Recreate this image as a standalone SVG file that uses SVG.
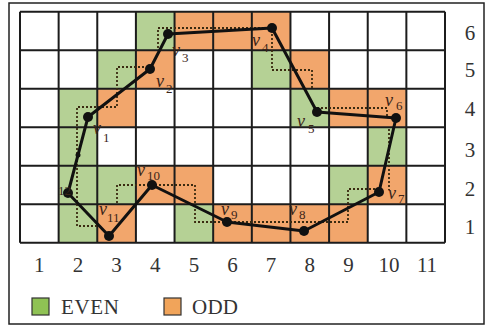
<svg xmlns="http://www.w3.org/2000/svg" width="488" height="327" viewBox="0 0 488 327">
<style>
.g{fill:#b5d195}.o{fill:#f2a66c}
.grid{stroke:#1c1c1c;stroke-width:2;fill:none}
.dot{stroke:#3a2a10;stroke-width:1.8;stroke-dasharray:2 2;fill:none}
.edge{stroke:#111;stroke-width:3;fill:none;stroke-linejoin:round}
.v{fill:#111}
.lab{font-family:"Liberation Serif",serif;font-style:italic;font-size:18px;fill:#3b2418}
.sub{font-family:"Liberation Serif",serif;font-size:13px;fill:#3b2418}
.num{font-family:"Liberation Serif",serif;font-size:21px;fill:#333}
.leg{font-family:"Liberation Serif",serif;font-size:21px;fill:#333}
</style>
<rect x="0" y="0" width="488" height="327" fill="#fff"/>
<rect x="9" y="3" width="475" height="321" fill="none" stroke="#222" stroke-width="1.5"/>
<g id="cells">
<rect class="g" x="135.91" y="11.7" width="38.64" height="38.5"/>
<rect class="o" x="174.55" y="11.7" width="38.64" height="38.5"/>
<rect class="o" x="213.18" y="11.7" width="38.64" height="38.5"/>
<rect class="o" x="251.82" y="11.7" width="38.64" height="38.5"/>
<rect class="g" x="97.27" y="50.2" width="38.64" height="38.5"/>
<rect class="o" x="135.91" y="50.2" width="38.64" height="38.5"/>
<rect class="g" x="251.82" y="50.2" width="38.64" height="38.5"/>
<rect class="o" x="290.45" y="50.2" width="38.64" height="38.5"/>
<rect class="g" x="58.64" y="88.7" width="38.64" height="38.5"/>
<rect class="o" x="97.27" y="88.7" width="38.64" height="38.5"/>
<rect class="g" x="290.45" y="88.7" width="38.64" height="38.5"/>
<rect class="o" x="329.09" y="88.7" width="38.64" height="38.5"/>
<rect class="o" x="367.73" y="88.7" width="38.64" height="38.5"/>
<rect class="g" x="58.64" y="127.2" width="38.64" height="38.5"/>
<rect class="g" x="367.73" y="127.2" width="38.64" height="38.5"/>
<rect class="g" x="58.64" y="165.7" width="38.64" height="38.5"/>
<rect class="g" x="97.27" y="165.7" width="38.64" height="38.5"/>
<rect class="o" x="135.91" y="165.7" width="38.64" height="38.5"/>
<rect class="o" x="174.55" y="165.7" width="38.64" height="38.5"/>
<rect class="g" x="329.09" y="165.7" width="38.64" height="38.5"/>
<rect class="o" x="367.73" y="165.7" width="38.64" height="38.5"/>
<rect class="g" x="58.64" y="204.2" width="38.64" height="38.5"/>
<rect class="o" x="97.27" y="204.2" width="38.64" height="38.5"/>
<rect class="g" x="174.55" y="204.2" width="38.64" height="38.5"/>
<rect class="o" x="213.18" y="204.2" width="38.64" height="38.5"/>
<rect class="o" x="251.82" y="204.2" width="38.64" height="38.5"/>
<rect class="o" x="290.45" y="204.2" width="38.64" height="38.5"/>
<rect class="o" x="329.09" y="204.2" width="38.64" height="38.5"/>
</g>
<g id="grid" class="grid">
<path d="M20 11.7V242.7M58.64 11.7V242.7M97.27 11.7V242.7M135.91 11.7V242.7M174.55 11.7V242.7M213.18 11.7V242.7M251.82 11.7V242.7M290.45 11.7V242.7M329.09 11.7V242.7M367.73 11.7V242.7M406.36 11.7V242.7M445 11.7V242.7"/>
<path d="M20 11.7H445M20 50.2H445M20 88.7H445M20 127.2H445M20 165.7H445M20 204.2H445M20 242.7H445"/>
</g>
<g id="staircase" class="dot">
<path d="M97 226H77V107H117V67H150"/>
<path d="M158 48V28H272V70H312V90"/>
<path d="M317 108H387V117"/>
<path d="M389 129V190"/>
<path d="M379 189H348V222H195V185H117V205"/>
</g>
<g id="connectors" class="edge">
<path d="M88 117L150 69L168 34L272 28L317 112L396 118L379 192L304 231L227 222L152 185L109 236L68 193Z"/>
</g>
<g id="v1"><circle class="v" cx="88" cy="117" r="5"/><text class="lab" x="93" y="134">v</text><text class="sub" x="103" y="142">1</text></g>
<g id="v2"><circle class="v" cx="150" cy="69" r="5"/><text class="lab" x="156" y="87">v</text><text class="sub" x="166" y="93">2</text></g>
<g id="v3"><circle class="v" cx="168" cy="34" r="5"/><text class="lab" x="172" y="56">v</text><text class="sub" x="182" y="62">3</text></g>
<g id="v4"><circle class="v" cx="272" cy="28" r="5"/><text class="lab" x="252" y="46">v</text><text class="sub" x="262" y="52">4</text></g>
<g id="v5"><circle class="v" cx="317" cy="112" r="5"/><text class="lab" x="297" y="127">v</text><text class="sub" x="308" y="133">5</text></g>
<g id="v6"><circle class="v" cx="396" cy="118" r="5"/><text class="lab" x="385" y="106">v</text><text class="sub" x="396" y="110">6</text></g>
<g id="v7"><circle class="v" cx="379" cy="192" r="5"/><text class="lab" x="388" y="199">v</text><text class="sub" x="398" y="203">7</text></g>
<g id="v8"><circle class="v" cx="304" cy="231" r="5"/><text class="lab" x="289" y="215">v</text><text class="sub" x="299" y="219">8</text></g>
<g id="v9"><circle class="v" cx="227" cy="222" r="5"/><text class="lab" x="221" y="215">v</text><text class="sub" x="231" y="219">9</text></g>
<g id="v10"><circle class="v" cx="152" cy="185" r="5"/><text class="lab" x="137" y="176">v</text><text class="sub" x="147" y="180">10</text></g>
<g id="v11"><circle class="v" cx="109" cy="236" r="5"/><text class="lab" x="99" y="215">v</text><text class="sub" x="107" y="222">11</text></g>
<g id="v12"><circle class="v" cx="68" cy="193" r="5"/><text class="sub" x="58" y="195">12</text></g>
<circle class="v" cx="78" cy="155" r="2.5"/>
<g id="ylabels" class="num" text-anchor="middle">
<text x="470" y="40">6</text><text x="470" y="77">5</text><text x="470" y="116">4</text><text x="470" y="157">3</text><text x="470" y="196">2</text><text x="470" y="234">1</text>
</g>
<g id="xlabels" class="num" text-anchor="middle">
<text x="39.3" y="272">1</text><text x="78" y="272">2</text><text x="116.6" y="272">3</text><text x="155.2" y="272">4</text><text x="193.9" y="272">5</text><text x="232.5" y="272">6</text><text x="271.1" y="272">7</text><text x="309.8" y="272">8</text><text x="348.4" y="272">9</text><text x="389" y="272">10</text><text x="427" y="272">11</text>
</g>
<g id="legend">
<rect x="32" y="298" width="17" height="17" fill="#8fc254" stroke="#333" stroke-width="1.2"/>
<text class="leg" x="61" y="314" textLength="58">EVEN</text>
<rect x="164" y="298" width="17" height="17" fill="#f1a45a" stroke="#333" stroke-width="1.2"/>
<text class="leg" x="192" y="314" textLength="46">ODD</text>
</g>
</svg>
